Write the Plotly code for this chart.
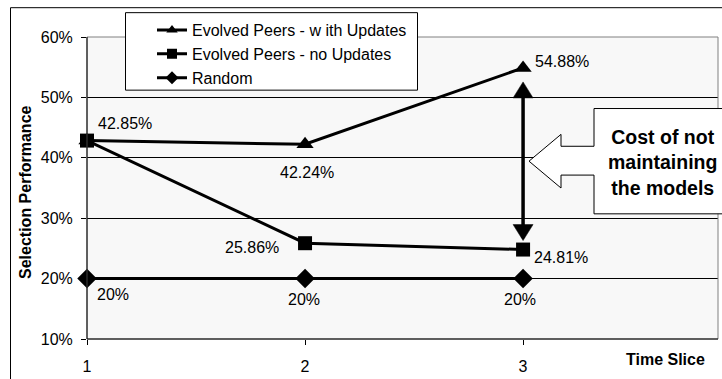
import plotly.graph_objects as go

# ---- data ----
time_slices = [1, 2, 3]
with_updates = [42.85, 42.24, 54.88]
no_updates = [42.85, 25.86, 24.81]
random_sel = [20, 20, 20]
series_names = ["Evolved Peers - w ith Updates", "Evolved Peers - no Updates", "Random"]
y_ticks = [10, 20, 30, 40, 50, 60]
y_tick_labels = ["10%", "20%", "30%", "40%", "50%", "60%"]
callout_text = "Cost of not<br>maintaining<br>the models"

# ---- layout geometry (pixels) ----
W, H = 722, 379
PL, PR, PT, PB = 87, 718, 37, 341
FONT = "Liberation Sans, Arial, sans-serif"


def pxx(x):
    return (x - PL) / (PR - PL)


def pxy(y):
    return (PB - y) / (PB - PT)


fig = go.Figure()
symbols = ["triangle-up", "square", "diamond"]
sizes = [15, 14, 15]
for vals, sym, sz, name in zip([with_updates, no_updates, random_sel], symbols, sizes, series_names):
    fig.add_trace(go.Scatter(
        x=time_slices, y=vals, mode="lines+markers", name=name, showlegend=False,
        line=dict(color="black", width=3),
        marker=dict(symbol=sym, size=sz, color="black"),
        cliponaxis=False,
    ))
# legend entries (smaller symbols, as in the reference legend)
for sym, name in zip(symbols, series_names):
    fig.add_trace(go.Scatter(
        x=[None], y=[None], mode="lines+markers", name=name,
        line=dict(color="black", width=3),
        marker=dict(symbol=sym, size=10, color="black"),
    ))

# ---- data labels ----
label_offsets = [
    [(37.5, -17.3), (2, 28), (38.5, -6)],
    [None, (-53.5, 4.4), (37.5, 8)],
    [(25.5, 16), (-1, 21), (-3, 21)],
]
annotations = []
for vals, offs in zip([with_updates, no_updates, random_sel], label_offsets):
    for xv, v, off in zip(time_slices, vals, offs):
        if off is None:
            continue
        annotations.append(dict(
            x=xv, y=v, xref="x", yref="y", text=f"{v:g}%", showarrow=False,
            xanchor="center", yanchor="middle",
            xshift=off[0], yshift=-off[1], font=dict(family=FONT, size=16, color="black"),
        ))

# axis titles
annotations.append(dict(x=pxx(26), y=pxy(193), xref="paper", yref="paper", text="<b>Selection Performance</b>",
                        textangle=-90, showarrow=False, xanchor="center", yanchor="middle",
                        font=dict(family=FONT, size=16, color="black")))
annotations.append(dict(x=pxx(665), y=pxy(362), xref="paper", yref="paper", text="<b>Time Slice</b>",
                        showarrow=False, xanchor="center", yanchor="middle",
                        font=dict(family=FONT, size=16, color="black")))
# callout text
annotations.append(dict(x=pxx(662), y=pxy(163), xref="paper", yref="paper", text="<b>" + callout_text + "</b>",
                        showarrow=False, align="center", xanchor="center", yanchor="middle",
                        font=dict(family=FONT, size=19.5, color="black")))

shapes = []
# outer chart border (right and bottom edges fall outside the picture)
shapes.append(dict(type="rect", xref="paper", yref="paper", x0=pxx(10.5), x1=pxx(730), y0=pxy(395), y1=pxy(7.5),
                   line=dict(color="black", width=1), layer="below"))
# plot area border (grey)
shapes.append(dict(type="rect", xref="paper", yref="paper", x0=0, x1=1, y0=0, y1=1,
                   line=dict(color="#808080", width=1), layer="above"))
# left axis line and bottom axis line in black
shapes.append(dict(type="line", xref="paper", yref="paper", x0=0, x1=0, y0=0, y1=1,
                   line=dict(color="black", width=1), layer="above"))
shapes.append(dict(type="line", xref="paper", yref="paper", x0=0, x1=1, y0=0, y1=0,
                   line=dict(color="black", width=1), layer="above"))
# legend box
shapes.append(dict(type="rect", xref="paper", yref="paper", x0=pxx(125.5), x1=pxx(417.5), y0=pxy(90.5), y1=pxy(12.5),
                   line=dict(color="black", width=1), fillcolor="white", layer="above"))

# callout (box with left-pointing arrow)
pts = [(594, 109), (735, 109), (735, 215), (594, 215), (594, 176), (561, 176), (561, 189),
       (529, 162), (561, 135), (561, 147), (594, 147)]
path = "M " + " L ".join(f"{pxx(a):.5f},{pxy(b):.5f}" for a, b in pts) + " Z"
shapes.append(dict(type="path", xref="paper", yref="paper", path=path,
                   line=dict(color="black", width=1), fillcolor="white", layer="above"))

# double arrow between the two evolved series at the last time slice
xa = time_slices[-1]
shapes.append(dict(type="path", xref="x", yref="y", xsizemode="pixel", ysizemode="pixel",
                   xanchor=xa, yanchor=with_updates[-1],
                   path="M 0,-24 L 0,-170", line=dict(color="black", width=3.5)))
shapes.append(dict(type="path", xref="x", yref="y", xsizemode="pixel", ysizemode="pixel",
                   xanchor=xa, yanchor=with_updates[-1],
                   path="M 0,-14 L -10,-30 L 10,-30 Z", line=dict(color="black", width=0.5), fillcolor="black"))
shapes.append(dict(type="path", xref="x", yref="y", xsizemode="pixel", ysizemode="pixel",
                   xanchor=xa, yanchor=no_updates[-1],
                   path="M 0,9 L -10,25 L 10,25 Z", line=dict(color="black", width=0.5), fillcolor="black"))

fig.update_layout(
    width=W, height=H,
    margin=dict(l=PL, r=W - PR, t=PT, b=H - PB, pad=0),
    paper_bgcolor="white", plot_bgcolor="#F8F8F8",
    font=dict(family=FONT, size=16, color="black"),
    showlegend=True,
    legend=dict(x=pxx(152), y=pxy(13), xanchor="left", yanchor="top", bgcolor="rgba(0,0,0,0)",
                borderwidth=0, font=dict(family=FONT, size=16, color="black"), tracegroupgap=0),
    annotations=annotations,
    shapes=shapes,
)
fig.update_xaxes(range=[1, 3.894], tickvals=time_slices, ticktext=[str(t) for t in time_slices],
                 showgrid=False, zeroline=False, showline=False, ticks="outside", ticklen=5,
                 tickcolor="black", tickfont=dict(family=FONT, size=16, color="black"), ticklabelstandoff=8)
fig.update_yaxes(range=[10, 60], tickvals=y_ticks, ticktext=y_tick_labels,
                 showgrid=True, gridcolor="black", gridwidth=1, zeroline=False, showline=False,
                 ticks="outside", ticklen=5, tickcolor="black",
                 tickfont=dict(family=FONT, size=16, color="black"), ticklabelstandoff=5)

fig.write_html("out.html", config={"displayModeBar": False},
               post_script="document.body.style.margin='0';document.body.style.overflow='hidden';")
